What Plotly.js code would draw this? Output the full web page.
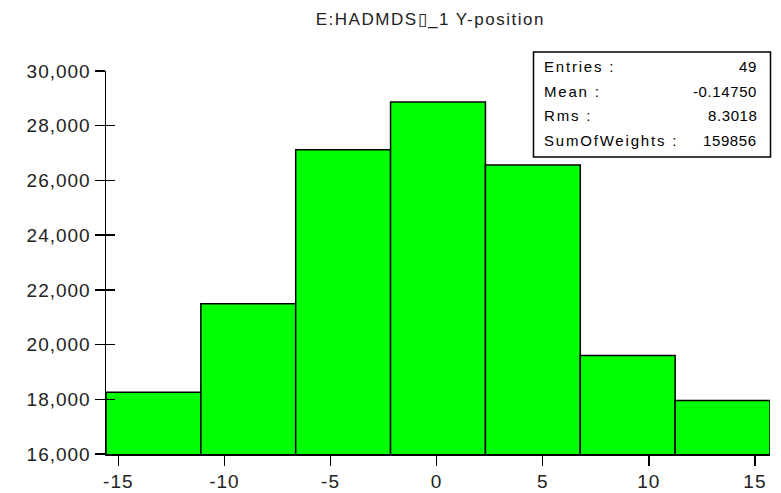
<!DOCTYPE html>
<html>
<head>
<meta charset="utf-8">
<script src="https://cdn.plot.ly/plotly-3.0.1.min.js"></script>
<style>
  html, body { margin: 0; padding: 0; background: #fff; }
  #chart { width: 781px; height: 493px; }
  #chart .gtitle { letter-spacing: 1.5px; }
  #chart .xtick text, #chart .ytick text { letter-spacing: 1px; }
</style>
</head>
<body>
<div id="chart"></div>
<script>
// Histogram of Y-position: bin edges and contents per bin
const binEdges = [-15.58, -11.11, -6.64, -2.17, 2.30, 6.77, 11.24, 15.71];
const binContents = [18260, 21490, 27120, 28870, 26560, 19600, 17956];

// Statistics box
const statLabels = ["Entries :", "Mean :", "Rms :", "SumOfWeights :"];
const statValues = ["49", "-0.14750", "8.3018", "159856"];

// Axis ticks
const yTicks = [16000, 18000, 20000, 22000, 24000, 26000, 28000, 30000];
const xTicks = [-15, -10, -5, 0, 5, 10, 15];
const xTickText = ["-15", "-10", "-5", "0", "5", "10", "15"];

const centers = [], widths = [];
for (let i = 0; i < binContents.length; i++) {
  centers.push((binEdges[i] + binEdges[i + 1]) / 2);
  widths.push(binEdges[i + 1] - binEdges[i]);
}

const tickFont = { family: "Liberation Sans, Arial, sans-serif", size: 19, color: "#222" };
const boxFont = { family: "Liberation Sans, Arial, sans-serif", size: 15, color: "#000" };

const traces = [{
  type: "bar",
  x: centers,
  y: binContents,
  width: widths,
  marker: { color: "#00ff00", line: { color: "#000", width: 1.5 } },
  hoverinfo: "x+y"
}, {
  // invisible trace carrying the inner tick marks of the y axis
  type: "scatter", mode: "markers",
  x: [centers[0]], y: [binContents[0]],
  yaxis: "y2", marker: { opacity: 0 }, hoverinfo: "skip", showlegend: false
}];

const yRange = [yTicks[0], yTicks[yTicks.length - 1]];
const xRange = [binEdges[0], binEdges[binEdges.length - 1]];

const pL = 106, pR = 770, pT = 71, pB = 454;
const px = v => (v - pL) / (pR - pL);
const py = v => (pB - v) / (pB - pT);

const rowY = [66.7, 91.3, 115.5, 140];
const annotations = [];
statLabels.forEach((lab, i) => {
  annotations.push({ xref: "paper", yref: "paper", x: px(542), y: py(rowY[i]),
    xanchor: "left", yanchor: "middle", showarrow: false, font: boxFont,
    text: '<span style="letter-spacing:1.8px">' + lab + '</span>' });
  annotations.push({ xref: "paper", yref: "paper", x: px(759), y: py(rowY[i]),
    xanchor: "right", yanchor: "middle", showarrow: false, font: boxFont,
    text: '<span style="letter-spacing:0.6px">' + statValues[i] + '</span>' });
});

const layout = {
  width: 781, height: 493,
  margin: { l: pL, r: 781 - pR, t: pT, b: 493 - pB },
  paper_bgcolor: "#fff", plot_bgcolor: "#fff",
  showlegend: false,
  bargap: 0,
  title: {
    text: "E:HADMDS\u25AF_1 Y-position",
    x: 0.551, xref: "container", xanchor: "center",
    y: 1 - 19 / 493, yref: "container", yanchor: "middle",
    font: { family: "Liberation Sans, Arial, sans-serif", size: 17, color: "#222" }
  },
  xaxis: {
    range: xRange, tickvals: xTicks, ticktext: xTickText, ticks: "outside", ticklen: 10,
    tickwidth: 1.5, tickcolor: "#000", showline: true, linecolor: "#000", linewidth: 1.5,
    showgrid: false, zeroline: false, tickfont: tickFont, fixedrange: true
  },
  yaxis: {
    range: yRange, tickvals: yTicks, tickformat: ",d", ticks: "outside", ticklen: 10,
    tickwidth: 1.5, tickcolor: "#000", showline: true, linecolor: "#000", linewidth: 1.5,
    showgrid: false, zeroline: false, tickfont: tickFont, fixedrange: true
  },
  yaxis2: {
    overlaying: "y", side: "left", range: yRange, tickvals: yTicks, ticks: "inside",
    ticklen: 9, tickwidth: 1.5, tickcolor: "#000", showticklabels: false,
    showline: false, showgrid: false, zeroline: false, fixedrange: true
  },
  shapes: [{
    type: "rect", xref: "paper", yref: "paper",
    x0: px(533.5), x1: px(770.5), y0: py(157), y1: py(52),
    line: { color: "#000", width: 1.5 }, fillcolor: "#fff", layer: "above"
  }],
  annotations: annotations
};

Plotly.newPlot("chart", traces, layout, { displayModeBar: false, staticPlot: true });
</script>
</body>
</html>
